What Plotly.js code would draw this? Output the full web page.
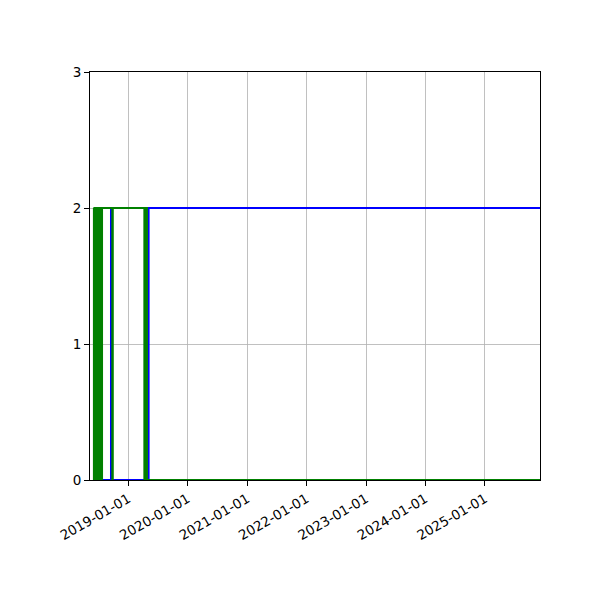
<!DOCTYPE html>
<html>
<head>
<meta charset="utf-8">
<script src="https://cdn.plot.ly/plotly-3.0.1.min.js"></script>
<style>html,body{margin:0;padding:0;background:#fff;}#chart{width:600px;height:600px;}</style>
</head>
<body>
<div id="chart"></div>
<script>
// Blue series (state values)
const blueDates = ["2018-06-01","2018-06-16","2018-06-18","2018-09-17","2018-09-19","2019-05-06","2025-12-05"];
const blueValues = [0, 2, 0, 2, 0, 2, 2];

// Green series (state values)
const greenDates = ["2018-06-01","2018-06-04","2018-06-07","2018-06-10","2018-06-12","2018-06-21","2018-06-24",
  "2018-06-27","2018-06-30","2018-07-03","2018-07-06","2018-07-09","2018-07-12","2018-07-15","2018-07-18",
  "2018-07-21","2018-07-24","2018-09-25","2018-09-28","2019-04-10","2019-04-13",
  "2019-04-18","2019-04-22","2019-04-26","2025-12-05"];
const greenValues = [2,0,2,0,2,0,2,0,2,0,2,0,2,0,2,0,2,0,2,0,2,0,2,0,0];

const xRange = ["2018-05-11","2025-12-05"];
const yTicks = [0, 1, 2, 3];

const font = {family: "DejaVu Sans", size: 13.5, color: "#000"};

Plotly.newPlot("chart", [
  {x: blueDates, y: blueValues, type: "scatter", mode: "lines", line: {color: "#0000ff", width: 2, shape: "hv"}},
  {x: greenDates, y: greenValues, type: "scatter", mode: "lines", line: {color: "#008000", width: 2, shape: "hv"}}
], {
  width: 600, height: 600,
  margin: {l: 90, r: 60, t: 72, b: 120, pad: 0},
  paper_bgcolor: "#fff", plot_bgcolor: "#fff",
  showlegend: false,
  font: font,
  xaxis: {
    type: "date", range: xRange,
    tick0: "2019-01-01", dtick: "M12", tickformat: "%Y-%m-%d",
    tickangle: -30,
    showgrid: true, gridcolor: "#b0b0b0", gridwidth: 0.8,
    showline: true, linecolor: "#000", linewidth: 1, mirror: true,
    ticks: "outside", ticklen: 5, tickcolor: "#000",
    zeroline: false, tickfont: font
  },
  yaxis: {
    range: [0, 3], tickvals: yTicks,
    showgrid: true, gridcolor: "#b0b0b0", gridwidth: 0.8,
    showline: true, linecolor: "#000", linewidth: 1, mirror: true,
    ticks: "outside", ticklen: 5, tickcolor: "#000",
    zeroline: false, tickfont: font
  }
}, {displayModeBar: false, staticPlot: true});
</script>
</body>
</html>
